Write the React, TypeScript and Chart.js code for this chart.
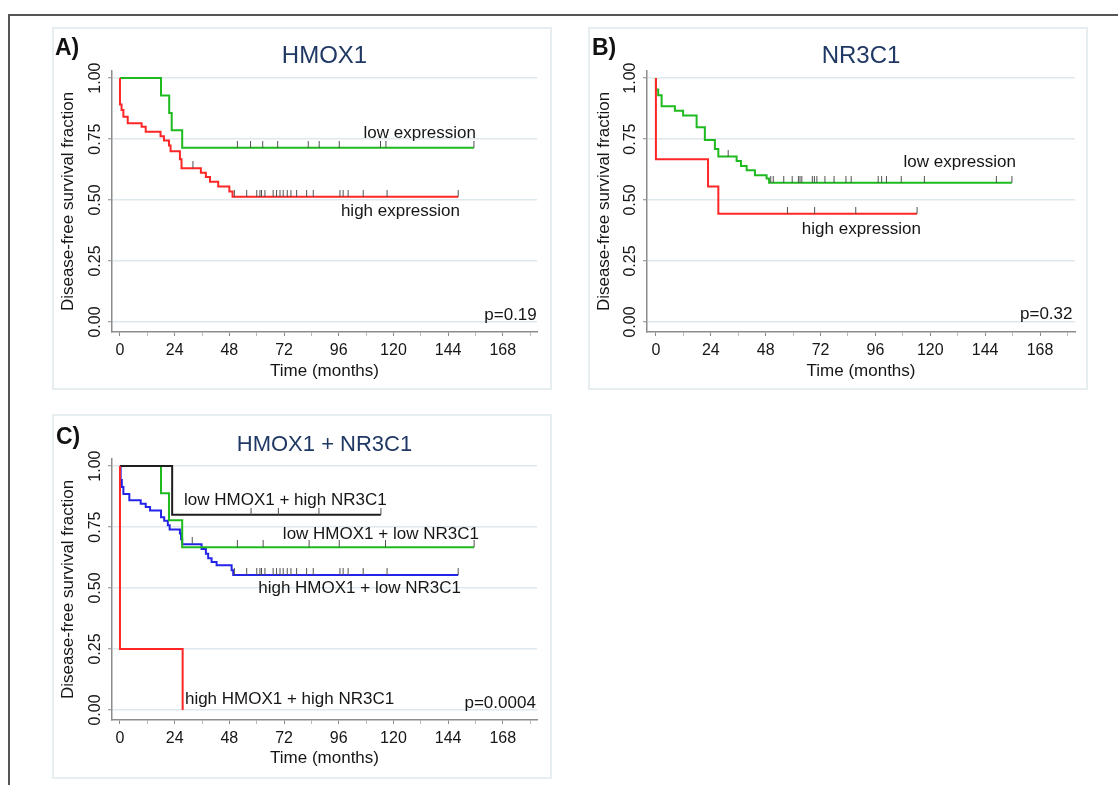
import React, { useEffect, useRef } from 'react';
import { Chart, registerables } from 'chart.js';

Chart.register(...registerables);

const FONT = "'Liberation Sans', Arial, Helvetica, sans-serif";
Chart.defaults.font.family = FONT;

// ---- tick labels ----
const xTickLabels = ['0', '24', '48', '72', '96', '120', '144', '168'];
const yTickValues = [0, 0.25, 0.5, 0.75, 1];
const yTickLabels = ['0.00', '0.25', '0.50', '0.75', '1.00'];

// ---- Panel A: HMOX1 ----
const aLowTimes = [0, 18.0, 21.6, 22.7, 27.3];
const aLowSurv = [1, 0.929, 0.857, 0.786, 0.714];
const aLowCensored = [51.5, 57.3, 62.6, 69.2, 82.6, 87.4, 96.2, 114.3, 116.7, 155.3];

const aHighTimes = [0, 0, 0.7, 1.5, 3.4, 9.5, 11.3, 17.8, 19.3, 21.5, 22.2, 26.3, 27.0, 35.5, 37.7, 39.5, 43.1, 48.0, 49.4];
const aHighSurv = [1, 0.892, 0.869, 0.841, 0.815, 0.8, 0.78, 0.762, 0.744, 0.724, 0.7, 0.667, 0.63, 0.612, 0.594, 0.575, 0.556, 0.535, 0.513];
const aHighCensored = [32.0, 50.2, 55.6, 60.0, 61.4, 62.1, 63.6, 67.2, 68.7, 70.2, 71.6, 73.4, 75.0, 77.5, 81.9, 84.8, 96.5, 97.9, 100.1, 106.7, 117.2, 148.4];

// ---- Panel B: NR3C1 ----
const bLowTimes = [0, 0, 1.0, 2.5, 8.3, 11.9, 17.8, 21.4, 25.8, 27.3, 35.3, 37.2, 39.7, 43.3, 48.4, 49.5];
const bLowSurv = [1, 0.953, 0.93, 0.884, 0.866, 0.847, 0.798, 0.746, 0.709, 0.678, 0.66, 0.64, 0.622, 0.602, 0.588, 0.571];
const bLowCensored = [31.6, 50.2, 51.3, 55.9, 59.6, 62.3, 63.0, 63.8, 68.4, 69.3, 70.4, 73.9, 77.9, 83.1, 85.4, 97.2, 98.7, 100.8, 107.3, 117.4, 148.9, 155.7];

const bHighTimes = [0, 0, 22.8, 27.3];
const bHighSurv = [1, 0.667, 0.556, 0.444];
const bHighCensored = [57.5, 69.4, 87.4, 114.2];

// ---- Panel C: HMOX1 + NR3C1 ----
const cLowHighTimes = [0, 22.9];
const cLowHighSurv = [1, 0.8];
const cLowHighCensored = [57.5, 69.5, 87.3, 114.5];

const cLowLowTimes = [0, 18.0, 21.5, 27.3];
const cLowLowSurv = [1, 0.889, 0.778, 0.667];
const cLowLowCensored = [51.5, 62.8, 83.0, 96.2, 116.5, 155.4];

const cHighLowTimes = [0, 0.3, 0.8, 1.5, 4.1, 9.1, 11.3, 13.2, 18.0, 19.4, 21.0, 21.8, 26.3, 26.8, 27.3, 35.8, 37.7, 38.7, 40.2, 42.4, 49.0, 49.7];
const cHighLowSurv = [1, 0.943, 0.914, 0.886, 0.86, 0.846, 0.832, 0.818, 0.79, 0.776, 0.757, 0.74, 0.724, 0.7, 0.68, 0.66, 0.641, 0.622, 0.607, 0.593, 0.573, 0.553];
const cHighLowCensored = [31.7, 50.2, 55.6, 60.0, 61.4, 62.1, 63.6, 67.2, 68.7, 70.2, 71.6, 73.4, 75.0, 77.5, 81.9, 84.8, 96.5, 97.9, 100.1, 106.7, 117.2, 148.4];

const cHighHighTimes = [0, 0, 27.5];
const cHighHighSurv = [1, 0.25, 0];
const cHighHighCensored: number[] = [];

// ---- styles ----
const GREEN = '#1fba1f';
const RED = '#ff2626';
const BLUE = '#2424e8';
const BLACK = '#1e1e1e';
const TITLE_COLOR = '#1f3864';
const TEXT = '#161616';
const AXIS = '#8c8c8c';
const GRID = '#dfe8ec';

type Series = { name: string; times: number[]; surv: number[]; censored: number[]; color: string; order: number };
type Note = { text: string; x: number; y: number; align: CanvasTextAlign };
type PanelCfg = {
  letter: string; title: string; titleSize: number;
  left: number; top: number; width: number; height: number; boxHeight: number;
  plotLeft: number; plotRight: number; plotTop: number; xAxisHeight: number;
  xMin: number; xMax: number; letterX: number; letterY: number;
  series: Series[]; notes: Note[];
};

const panels: PanelCfg[] = [
  {
    letter: 'A)', title: 'HMOX1', titleSize: 24,
    left: 52, top: 27, width: 500, height: 363, boxHeight: 363,
    plotLeft: 60, plotRight: 15, plotTop: 44, xAxisHeight: 58,
    xMin: -3.5, xMax: 183, letterX: 3, letterY: 28,
    series: [
      { name: 'high expression', times: aHighTimes, surv: aHighSurv, censored: aHighCensored, color: RED, order: 1 },
      { name: 'low expression', times: aLowTimes, surv: aLowSurv, censored: aLowCensored, color: GREEN, order: 2 },
    ],
    notes: [
      { text: 'low expression', x: 156.2, y: 0.775, align: 'right' },
      { text: 'high expression', x: 149.2, y: 0.455, align: 'right' },
      { text: 'p=0.19', x: 182.9, y: 0.029, align: 'right' },
    ],
  },
  {
    letter: 'B)', title: 'NR3C1', titleSize: 24,
    left: 588, top: 27, width: 500, height: 363, boxHeight: 363,
    plotLeft: 59, plotRight: 13, plotTop: 44, xAxisHeight: 58,
    xMin: -3.9, xMax: 183.3, letterX: 4, letterY: 28,
    series: [
      { name: 'high expression', times: bHighTimes, surv: bHighSurv, censored: bHighCensored, color: RED, order: 1 },
      { name: 'low expression', times: bLowTimes, surv: bLowSurv, censored: bLowCensored, color: GREEN, order: 2 },
    ],
    notes: [
      { text: 'low expression', x: 157.5, y: 0.656, align: 'right' },
      { text: 'high expression', x: 115.9, y: 0.381, align: 'right' },
      { text: 'p=0.32', x: 182.2, y: 0.033, align: 'right' },
    ],
  },
  {
    letter: 'C)', title: 'HMOX1 + NR3C1', titleSize: 22,
    left: 52, top: 414, width: 500, height: 363, boxHeight: 365,
    plotLeft: 60, plotRight: 15, plotTop: 45, xAxisHeight: 57,
    xMin: -3.5, xMax: 183, letterX: 4, letterY: 30,
    series: [
      { name: 'high HMOX1 + high NR3C1', times: cHighHighTimes, surv: cHighHighSurv, censored: cHighHighCensored, color: RED, order: 1 },
      { name: 'low HMOX1 + high NR3C1', times: cLowHighTimes, surv: cLowHighSurv, censored: cLowHighCensored, color: BLACK, order: 2 },
      { name: 'low HMOX1 + low NR3C1', times: cLowLowTimes, surv: cLowLowSurv, censored: cLowLowCensored, color: GREEN, order: 3 },
      { name: 'high HMOX1 + low NR3C1', times: cHighLowTimes, surv: cHighLowSurv, censored: cHighLowCensored, color: BLUE, order: 4 },
    ],
    notes: [
      { text: 'low HMOX1 + high NR3C1', x: 28.1, y: 0.861, align: 'left' },
      { text: 'low HMOX1 + low NR3C1', x: 157.5, y: 0.721, align: 'right' },
      { text: 'high HMOX1 + low NR3C1', x: 149.6, y: 0.5, align: 'right' },
      { text: 'high HMOX1 + high NR3C1', x: 28.5, y: 0.045, align: 'left' },
      { text: 'p=0.0004', x: 182.5, y: 0.029, align: 'right' },
    ],
  },
];

function survivalAt(times: number[], surv: number[], t: number): number {
  let s = surv[0];
  for (let i = 0; i < times.length; i++) if (times[i] <= t) s = surv[i];
  return s;
}

function curvePoints(times: number[], surv: number[], censored: number[]) {
  const pts = times.map((t, i) => ({ x: t, y: surv[i] }));
  const lastT = times[times.length - 1];
  const end = censored.length ? Math.max(...censored) : lastT;
  if (end > lastT) pts.push({ x: end, y: surv[surv.length - 1] });
  return pts;
}

function makeTextPlugin(p: PanelCfg) {
  return {
    id: 'panelText',
    afterDraw(chart: any) {
      const { ctx, chartArea, scales } = chart;
      const xs = scales.x;
      const ys = scales.y;
      ctx.save();
      ctx.fillStyle = '#111';
      ctx.font = `bold 23px ${FONT}`;
      ctx.textAlign = 'left';
      ctx.textBaseline = 'alphabetic';
      ctx.fillText(p.letter, p.letterX, p.letterY);

      ctx.fillStyle = TITLE_COLOR;
      ctx.font = `${p.titleSize}px ${FONT}`;
      ctx.textAlign = 'center';
      ctx.fillText(p.title, (chartArea.left + chartArea.right) / 2, chartArea.top - 8.5);

      ctx.fillStyle = TEXT;
      ctx.font = `16px ${FONT}`;
      ctx.textBaseline = 'middle';
      yTickValues.forEach((v, i) => {
        ctx.save();
        ctx.translate(chartArea.left - 16, ys.getPixelForValue(v));
        ctx.rotate(-Math.PI / 2);
        ctx.textAlign = 'center';
        ctx.fillText(yTickLabels[i], 0, 0);
        ctx.restore();
      });

      ctx.font = `17px ${FONT}`;
      ctx.fillStyle = TEXT;
      p.notes.forEach((n) => {
        ctx.textAlign = n.align;
        ctx.textBaseline = 'middle';
        ctx.fillText(n.text, xs.getPixelForValue(n.x), ys.getPixelForValue(n.y));
      });
      ctx.restore();
    },
  };
}

function Panel({ cfg }: { cfg: PanelCfg }) {
  const ref = useRef<HTMLCanvasElement>(null);
  useEffect(() => {
    const canvas = ref.current;
    if (!canvas) return;
    const tick = document.createElement('canvas');
    tick.width = 3;
    tick.height = 14;
    const tctx = tick.getContext('2d');
    if (tctx) {
      tctx.fillStyle = '#505050';
      tctx.fillRect(1, 0, 1, 7);
    }
    const datasets: any[] = [];
    cfg.series.forEach((s) => {
      datasets.push({
        label: s.name,
        data: curvePoints(s.times, s.surv, s.censored),
        borderColor: s.color,
        backgroundColor: s.color,
        borderWidth: 2,
        stepped: true,
        pointRadius: 0,
        fill: false,
        tension: 0,
        order: s.order,
      });
      datasets.push({
        label: s.name + ' censored',
        data: s.censored.map((t) => ({ x: t, y: survivalAt(s.times, s.surv, t) })),
        showLine: false,
        pointStyle: tick,
        pointRadius: 3,
        order: 0,
      });
    });

    const chart = new Chart(canvas, {
      type: 'line',
      data: { datasets },
      options: {
        responsive: false,
        animation: false,
        events: [],
        layout: { padding: { left: 0, right: cfg.plotRight, top: cfg.plotTop, bottom: 0 } },
        plugins: { legend: { display: false }, tooltip: { enabled: false }, title: { display: false } },
        scales: {
          x: {
            type: 'linear',
            min: cfg.xMin,
            max: cfg.xMax,
            afterFit: (s: any) => { s.height = cfg.xAxisHeight; },
            border: { display: true, color: AXIS, width: 1.5 },
            grid: {
              display: true,
              drawOnChartArea: false,
              drawTicks: true,
              tickLength: 4,
              tickWidth: 1,
              tickColor: (c: any) => (c.tick && xTickLabels.includes(String(c.tick.value)) ? '#8a8a8a' : '#b8b8b8'),
            },
            ticks: {
              stepSize: 12,
              includeBounds: false,
              autoSkip: false,
              maxRotation: 0,
              minRotation: 0,
              padding: 5,
              color: TEXT,
              font: { family: FONT, size: 16 },
              callback: (v: any) => (xTickLabels.includes(String(v)) ? String(v) : ''),
            },
            title: {
              display: true,
              text: 'Time (months)',
              color: TEXT,
              font: { family: FONT, size: 17 },
              padding: { top: 0, bottom: 8 },
            },
          },
          y: {
            type: 'linear',
            min: -0.041,
            max: 1.029,
            afterFit: (s: any) => { s.width = cfg.plotLeft; },
            border: { display: true, color: AXIS, width: 1.5 },
            grid: { color: GRID, lineWidth: 1.5, drawTicks: true, tickLength: 4, tickColor: '#8a8a8a', tickWidth: 1 },
            ticks: { display: false, stepSize: 0.25, includeBounds: false },
            title: {
              display: true,
              text: 'Disease-free survival fraction',
              color: TEXT,
              font: { family: FONT, size: 17 },
              padding: { top: 6, bottom: 0 },
            },
          },
        },
      } as any,
      plugins: [makeTextPlugin(cfg)],
    });
    return () => chart.destroy();
  }, [cfg]);
  return (
    <canvas
      ref={ref}
      width={cfg.width}
      height={cfg.height}
      style={{ position: 'absolute', left: cfg.left, top: cfg.top, width: cfg.width, height: cfg.height }}
    />
  );
}

export default function App() {
  return (
    <div style={{ position: 'absolute', left: 0, top: 0, width: 1118, height: 785, overflow: 'hidden', background: '#fff' }}>
      <div
        style={{
          position: 'absolute', left: 8, top: 14, width: 1200, height: 900,
          borderTop: '2px solid #555', borderLeft: '2px solid #555',
        }}
      />
      {panels.map((p) => (
        <div
          key={'box' + p.letter}
          style={{
            position: 'absolute', left: p.left, top: p.top, width: p.width, height: p.boxHeight,
            border: '2px solid #e6eef1', boxSizing: 'border-box',
          }}
        />
      ))}
      {panels.map((p) => (
        <Panel key={p.letter} cfg={p} />
      ))}
    </div>
  );
}
